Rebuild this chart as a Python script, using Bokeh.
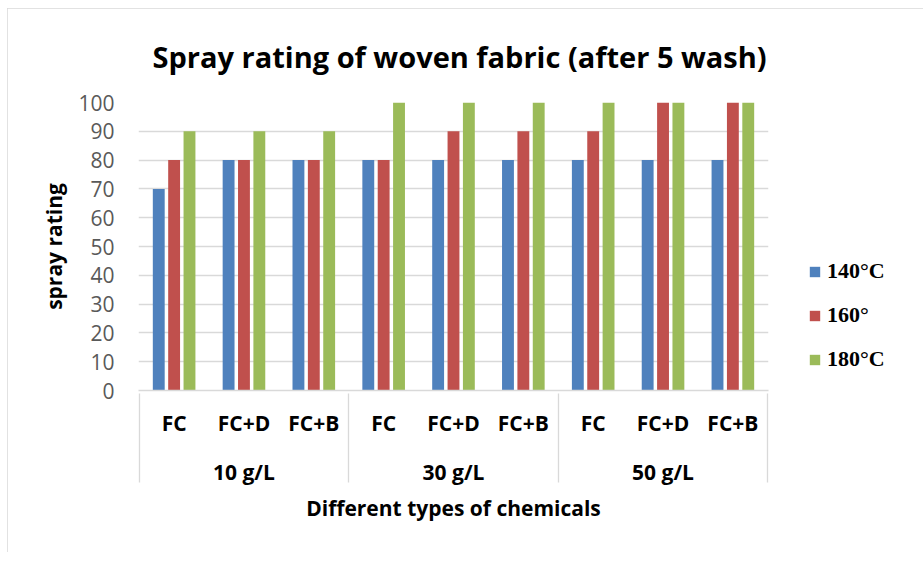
from bokeh.plotting import figure
from bokeh.models import (FactorRange, Range1d, FixedTicker, Legend, LegendItem,
                          ColumnDataSource)
from bokeh.transform import dodge
from bokeh.embed import file_html
from bokeh.resources import INLINE

# ---- data ----
groups = ["10 g/L", "30 g/L", "50 g/L"]
chemicals = ["FC", "FC+D", "FC+B"]
series = ["140°C", "160°", "180°C"]
t140 = [70, 80, 80, 80, 80, 80, 80, 80, 80]
t160 = [80, 80, 80, 80, 90, 90, 90, 100, 100]
t180 = [90, 90, 90, 100, 100, 100, 100, 100, 100]
y_ticks = [0, 10, 20, 30, 40, 50, 60, 70, 80, 90, 100]

colors = ["#4F81BD", "#C0504D", "#9BBB59"]
offsets = [-0.22, 0.0, 0.22]

factors = [(g, c) for g in groups for c in chemicals]
pad_left = (" ", " ")
pad_right = ("  ", " ")

x_range = FactorRange(factors=[pad_left] + factors + [pad_right],
                      factor_padding=0, subgroup_padding=0, group_padding=0,
                      range_padding=-0.99, range_padding_units="absolute")

src = ColumnDataSource(data=dict(x=factors, t140=t140, t160=t160, t180=t180))

p = figure(x_range=x_range, y_range=Range1d(0, 100),
           frame_width=630, frame_height=288,
           output_backend="svg", toolbar_location=None,
           min_border_left=131, min_border_right=148,
           min_border_top=94, min_border_bottom=162,
           title="Spray rating of woven fabric (after 5 wash)")
p.styles = {"margin-left": "7px", "margin-top": "8px",
            "outline": "1.5px solid #d9d9d9", "outline-offset": "-1.5px"}
p.outline_line_color = None
p.background_fill_color = "white"
p.border_fill_color = "white"

p.title.text_font = "Open Sans"
p.title.text_font_size = "29px"
p.title.text_font_style = "bold"
p.title.text_color = "black"
p.title.align = "left"
p.title.vertical_align = "middle"
p.title.standoff = 51
p.title.offset = 14

renderers = []
for key, col, off in zip(["t140", "t160", "t180"], colors, offsets):
    r = p.vbar(x=dodge("x", off, range=p.x_range), top=key, width=0.17,
               source=src, fill_color=col, line_color=None)
    renderers.append(r)

legend = Legend(items=[LegendItem(label=s, renderers=[r]) for s, r in zip(series, renderers)],
                location=(40, 18), orientation="vertical",
                border_line_color=None, background_fill_alpha=0,
                padding=0, margin=0, glyph_width=13, glyph_height=13,
                label_height=26, spacing=18, label_standoff=6,
                label_text_font="Liberation Serif", label_text_font_size="22px",
                label_text_font_style="bold", label_text_color="black")
p.add_layout(legend, "right")

# x axis
xa = p.xaxis[0]
xa.axis_label = "Different types of chemicals"
xa.axis_label_text_font = "Open Sans"
xa.axis_label_text_font_size = "21px"
xa.axis_label_text_font_style = "bold"
xa.axis_label_text_color = "black"
xa.axis_label_standoff = 5
xa.major_label_text_font = "Open Sans"
xa.major_label_text_font_size = "21px"
xa.major_label_text_font_style = "bold"
xa.major_label_text_color = "black"
xa.major_label_standoff = 18
xa.group_text_font = "Open Sans"
xa.group_text_font_size = "21px"
xa.group_text_font_style = "bold"
xa.group_text_color = "black"
xa.separator_line_color = "#d9d9d9"
xa.separator_line_width = 1.3
xa.axis_line_color = "#d9d9d9"
xa.axis_line_width = 1.3
xa.major_tick_line_color = None
xa.minor_tick_line_color = None
xa.major_tick_out = 0
xa.major_tick_in = 0

# y axis
ya = p.yaxis[0]
ya.ticker = FixedTicker(ticks=y_ticks)
ya.axis_label = "spray rating"
ya.axis_label_text_font = "Open Sans"
ya.axis_label_text_font_size = "21px"
ya.axis_label_text_font_style = "bold"
ya.axis_label_text_color = "black"
ya.axis_label_standoff = 7
ya.major_label_text_font = "Open Sans"
ya.major_label_text_font_size = "21px"
ya.major_label_text_color = "#595959"
ya.major_label_standoff = 24
ya.axis_line_color = None
ya.major_tick_line_color = None
ya.minor_tick_line_color = None
ya.major_tick_out = 0
ya.major_tick_in = 0

p.ygrid.ticker = FixedTicker(ticks=y_ticks)
p.ygrid.grid_line_color = "#d9d9d9"
p.ygrid.grid_line_width = 1.3
p.xgrid.grid_line_color = None

open("out.html", "w", encoding="utf-8").write(file_html(p, INLINE))
